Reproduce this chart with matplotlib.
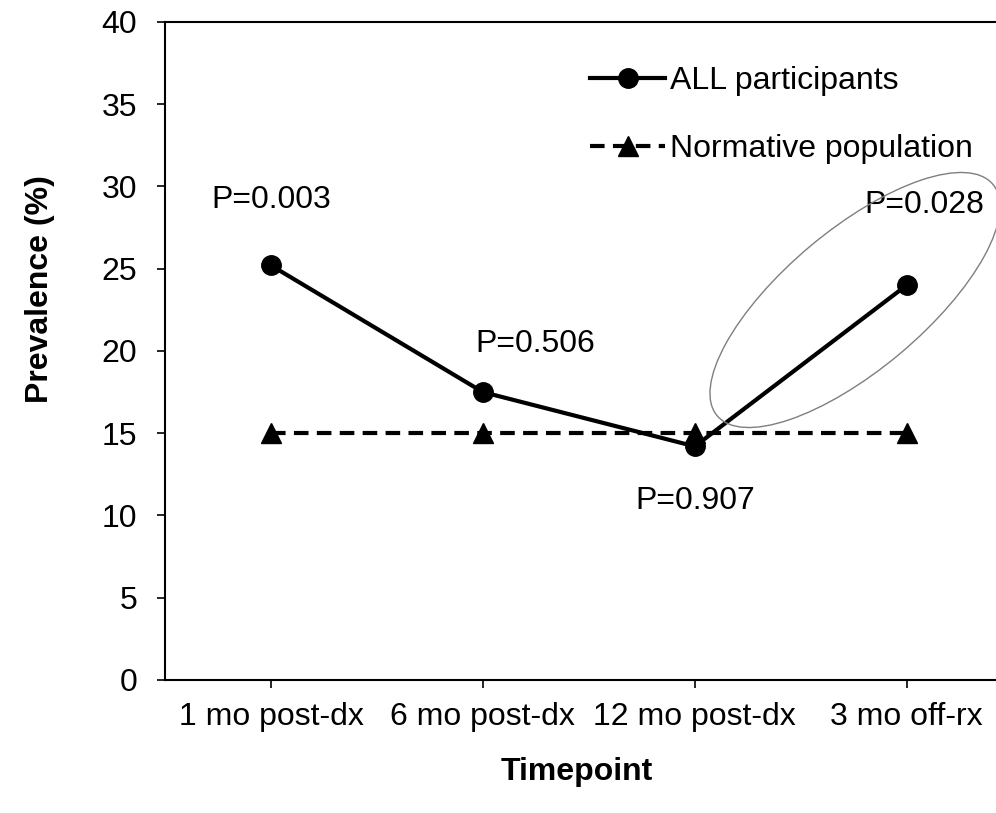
import numpy as np
import matplotlib
matplotlib.use('Agg')
import matplotlib.pyplot as plt
import matplotlib.patches as mpatches

plt.rcParams['font.family'] = ['Liberation Sans', 'DejaVu Sans']

timepoints = ['1 mo post-dx', '6 mo post-dx', '12 mo post-dx', '3 mo off-rx']
all_participants = [25.2, 17.5, 14.2, 24.0]
normative = [15, 15, 15, 15]
p_labels = ['P=0.003', 'P=0.506', 'P=0.907', 'P=0.028']
# where each p label sits (data coords)
p_x = [0.0, 1.245, 2.0, 3.085]
p_y = [29.2, 20.4, 10.9, 28.9]

FS = 23

fig = plt.figure(figsize=(9.96, 8.13), dpi=100)
ax = fig.add_axes([0.1657, 0.1636, 0.851, 0.8094])

x = np.arange(len(timepoints))
ax.plot(x, all_participants, '-o', color='black', lw=3, ms=14, label='ALL participants', zorder=3)
ax.plot(x, normative, '^', color='black', lw=3, ms=15, linestyle=(0, (3.5, 2)),
        label='Normative population', zorder=2)

for px, py, t in zip(p_x, p_y, p_labels):
    ax.text(px, py, t, ha='center', va='center', fontsize=FS)

# gray ellipse highlighting the last segment
ell = mpatches.Ellipse((8.55, 5.13), 3.60, 1.40, angle=40, fill=False,
                       edgecolor='#7f7f7f', lw=1.0, transform=fig.dpi_scale_trans)
fig.add_artist(ell)

ax.set_xlim(-0.5, 3.5)
ax.set_ylim(0, 40)
ax.set_yticks(np.arange(0, 41, 5))
ax.set_xticks(x)
ax.set_xticklabels(timepoints)
ax.tick_params(axis='both', labelsize=FS, width=1.2, length=6, direction='out', color='black')
ax.tick_params(axis='x', pad=10)
ax.tick_params(axis='y', pad=14)
for s in ['left', 'bottom', 'top']:
    ax.spines[s].set_linewidth(1.5)
ax.spines['right'].set_visible(False)

fig.text(577 / 996, 1 - 772 / 813, 'Timepoint', ha='center', va='center',
         fontsize=FS, fontweight='bold')
fig.text(40 / 996, 1 - 289 / 813, 'Prevalence (%)', ha='center', va='center',
         fontsize=FS, fontweight='bold', rotation=90)

ax.legend(loc='upper left', bbox_to_anchor=(590 / 996, 1 - 66 / 813),
          bbox_transform=fig.transFigure, frameon=False, fontsize=FS,
          handlelength=2.35, handletextpad=0.15, labelspacing=1.2, borderpad=0,
          borderaxespad=0)

fig.savefig('out.png', dpi=100)
